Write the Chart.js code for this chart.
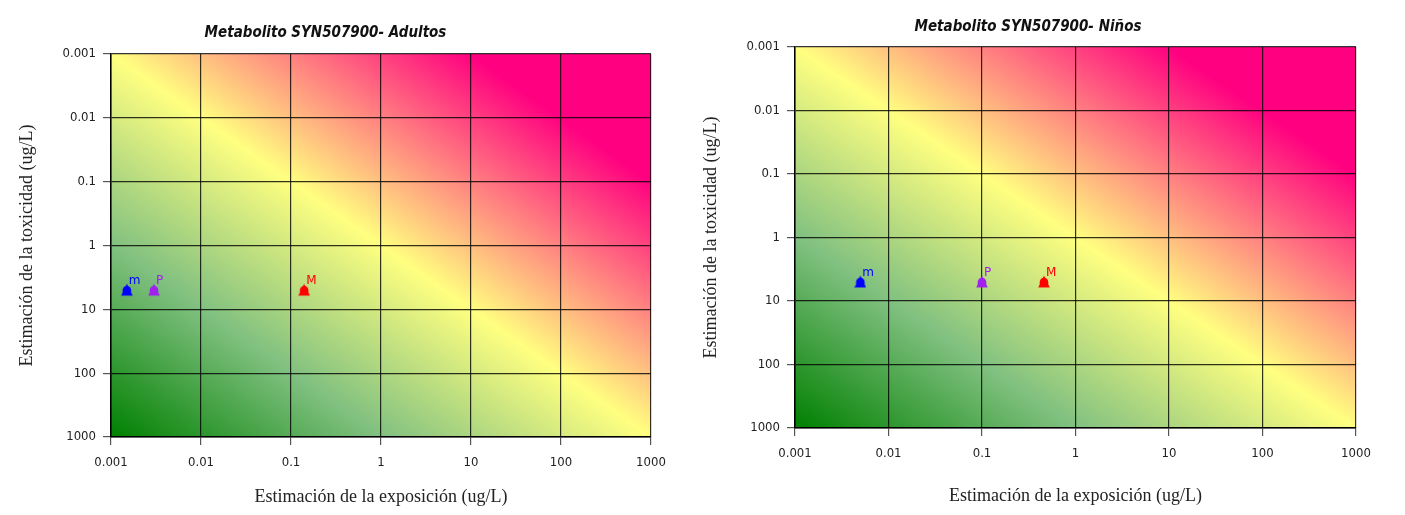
<!DOCTYPE html>
<html>
<head>
<meta charset="utf-8">
<script src="https://cdn.jsdelivr.net/npm/chart.js"></script>
<style>
    body { margin: 0; background: #fff; width: 1405px; height: 515px; overflow: hidden; position: relative; }
    .chart-box { position: absolute; top: 0; height: 515px; }
    #boxAdultos { left: 0; width: 700px; }
    #boxNinos { left: 700px; width: 705px; }
</style>
</head>
<body>
<div class="chart-box" id="boxAdultos"><canvas id="chartAdultos"></canvas></div>
<div class="chart-box" id="boxNinos"><canvas id="chartNinos"></canvas></div>

<script>
    // Axis ticks (same decades on both axes)
    const axisTicks = [0.001, 0.01, 0.1, 1, 10, 100, 1000];
    const tickLabels = ['0.001', '0.01', '0.1', '1', '10', '100', '1000'];

    // Points: m = minimum, P = promedio, M = maximum
    const pointNames = ['m', 'P', 'M'];
    const pointColors = ['#0000ff', '#a020f0', '#ff0000'];

    const adultosX = [0.0015, 0.003, 0.14];
    const adultosY = [5, 5, 5];
    const ninosX = [0.005, 0.1, 0.46];
    const ninosY = [5, 5, 5];

    const condensed = "'DejaVu Sans Condensed', 'DejaVu Sans', sans-serif";
    const serif = "'Liberation Serif', 'DejaVu Serif', serif";

    // Green -> yellow -> magenta risk background, isolines parallel to the anti-diagonal
    const riskBackground = {
        id: 'riskBackground',
        beforeDraw(chart) {
            const { ctx, chartArea: a } = chart;
            const w = a.right - a.left, h = a.bottom - a.top;
            const n = Math.sqrt(w * w + h * h);
            const len = w * h / n;
            const dx = h / n, dy = -w / n;
            const cx = a.left + w / 2, cy = a.top + h / 2;
            const g = ctx.createLinearGradient(cx - dx * len, cy - dy * len, cx + dx * len, cy + dy * len);
            g.addColorStop(0, '#008000');
            g.addColorStop(0.25, '#80c080');
            g.addColorStop(0.5, '#ffff80');
            g.addColorStop(0.667, '#ff8080');
            g.addColorStop(0.833, '#ff0080');
            g.addColorStop(1, '#ff0080');
            ctx.save();
            ctx.fillStyle = g;
            ctx.fillRect(a.left, a.top, w, h);
            ctx.restore();
        }
    };

    // small letter next to each marker
    const pointLetters = {
        id: 'pointLetters',
        afterDatasetsDraw(chart) {
            const ctx = chart.ctx;
            ctx.save();
            ctx.font = "12px 'DejaVu Sans', sans-serif";
            ctx.textAlign = 'left';
            ctx.textBaseline = 'alphabetic';
            chart.data.datasets.forEach((ds, i) => {
                const el = chart.getDatasetMeta(i).data[0];
                ctx.fillStyle = ds.backgroundColor;
                ctx.fillText(ds.label, el.x + 2, el.y - 6);
            });
            ctx.restore();
        }
    };

    // bell shaped marker: round dome, flared base, little tip on top
    function bellMarker(color) {
        const c = document.createElement('canvas');
        c.width = 12; c.height = 14;
        const g = c.getContext('2d');
        g.fillStyle = color;
        g.beginPath();
        g.arc(6, 7, 4.3, Math.PI, 0);
        g.lineTo(10.3, 9.5);
        g.lineTo(11.8, 12.5);
        g.lineTo(0.2, 12.5);
        g.lineTo(1.7, 9.5);
        g.closePath();
        g.fill();
        g.beginPath();
        g.moveTo(4.8, 3.2);
        g.lineTo(6, 0.6);
        g.lineTo(7.2, 3.2);
        g.closePath();
        g.fill();
        return c;
    }

    function logAxis(opts) {
        return {
            type: 'logarithmic',
            min: 0.001,
            max: 1000,
            reverse: !!opts.reverse,
            afterBuildTicks: s => { s.ticks = axisTicks.map(v => ({ value: v })); },
            afterFit: opts.afterFit,
            ticks: {
                autoSkip: false,
                maxRotation: 0,
                padding: opts.tickPadding,
                color: '#222',
                font: { family: condensed, size: 13 },
                callback: v => tickLabels[axisTicks.indexOf(v)]
            },
            grid: { color: 'rgba(0,0,0,0.8)', tickColor: '#555', tickLength: 8, lineWidth: 1.2 },
            border: { color: '#000', width: 1.5 },
            title: {
                display: true,
                text: opts.title,
                color: '#222',
                font: { family: serif, size: 18 },
                padding: opts.titlePadding
            }
        };
    }

    function makeChart(id, title, xs, ys, lay) {
        return new Chart(document.getElementById(id), {
            type: 'scatter',
            data: {
                datasets: pointNames.map((name, i) => ({
                    label: name,
                    data: [{ x: xs[i], y: ys[i] }],
                    backgroundColor: pointColors[i],
                    borderColor: pointColors[i],
                    pointStyle: bellMarker(pointColors[i])
                }))
            },
            options: {
                responsive: true,
                maintainAspectRatio: false,
                animation: false,
                layout: { padding: { left: 0, right: lay.right, top: 0, bottom: 0 } },
                scales: {
                    x: logAxis({
                        title: 'Estimación de la exposición (ug/L)',
                        tickPadding: 10,
                        titlePadding: { top: 0, bottom: lay.xTitleBottom },
                        afterFit: s => { s.height = lay.xHeight; }
                    }),
                    y: logAxis({
                        reverse: true,
                        title: 'Estimación de la toxicidad (ug/L)',
                        tickPadding: 7,
                        titlePadding: { top: lay.yTitleTop, bottom: 0 },
                        afterFit: s => { s.width = lay.yWidth; }
                    })
                },
                plugins: {
                    legend: { display: false },
                    tooltip: { enabled: false },
                    title: {
                        display: true,
                        text: title,
                        color: '#111',
                        font: { family: condensed, size: 15, weight: 'bold', style: 'italic' },
                        padding: { top: lay.titleTop, bottom: lay.titleBottom }
                    }
                }
            },
            plugins: [riskBackground, pointLetters]
        });
    }

    makeChart('chartAdultos', 'Metabolito SYN507900- Adultos', adultosX, adultosY,
        { right: 49, titleTop: 24, titleBottom: 12, yWidth: 111, yTitleTop: 16, xHeight: 78, xTitleBottom: 7 });

    makeChart('chartNinos', 'Metabolito SYN507900- Niños', ninosX, ninosY,
        { right: 49, titleTop: 18, titleBottom: 11, yWidth: 95, yTitleTop: 0, xHeight: 87, xTitleBottom: 8 });
</script>
</body>
</html>
